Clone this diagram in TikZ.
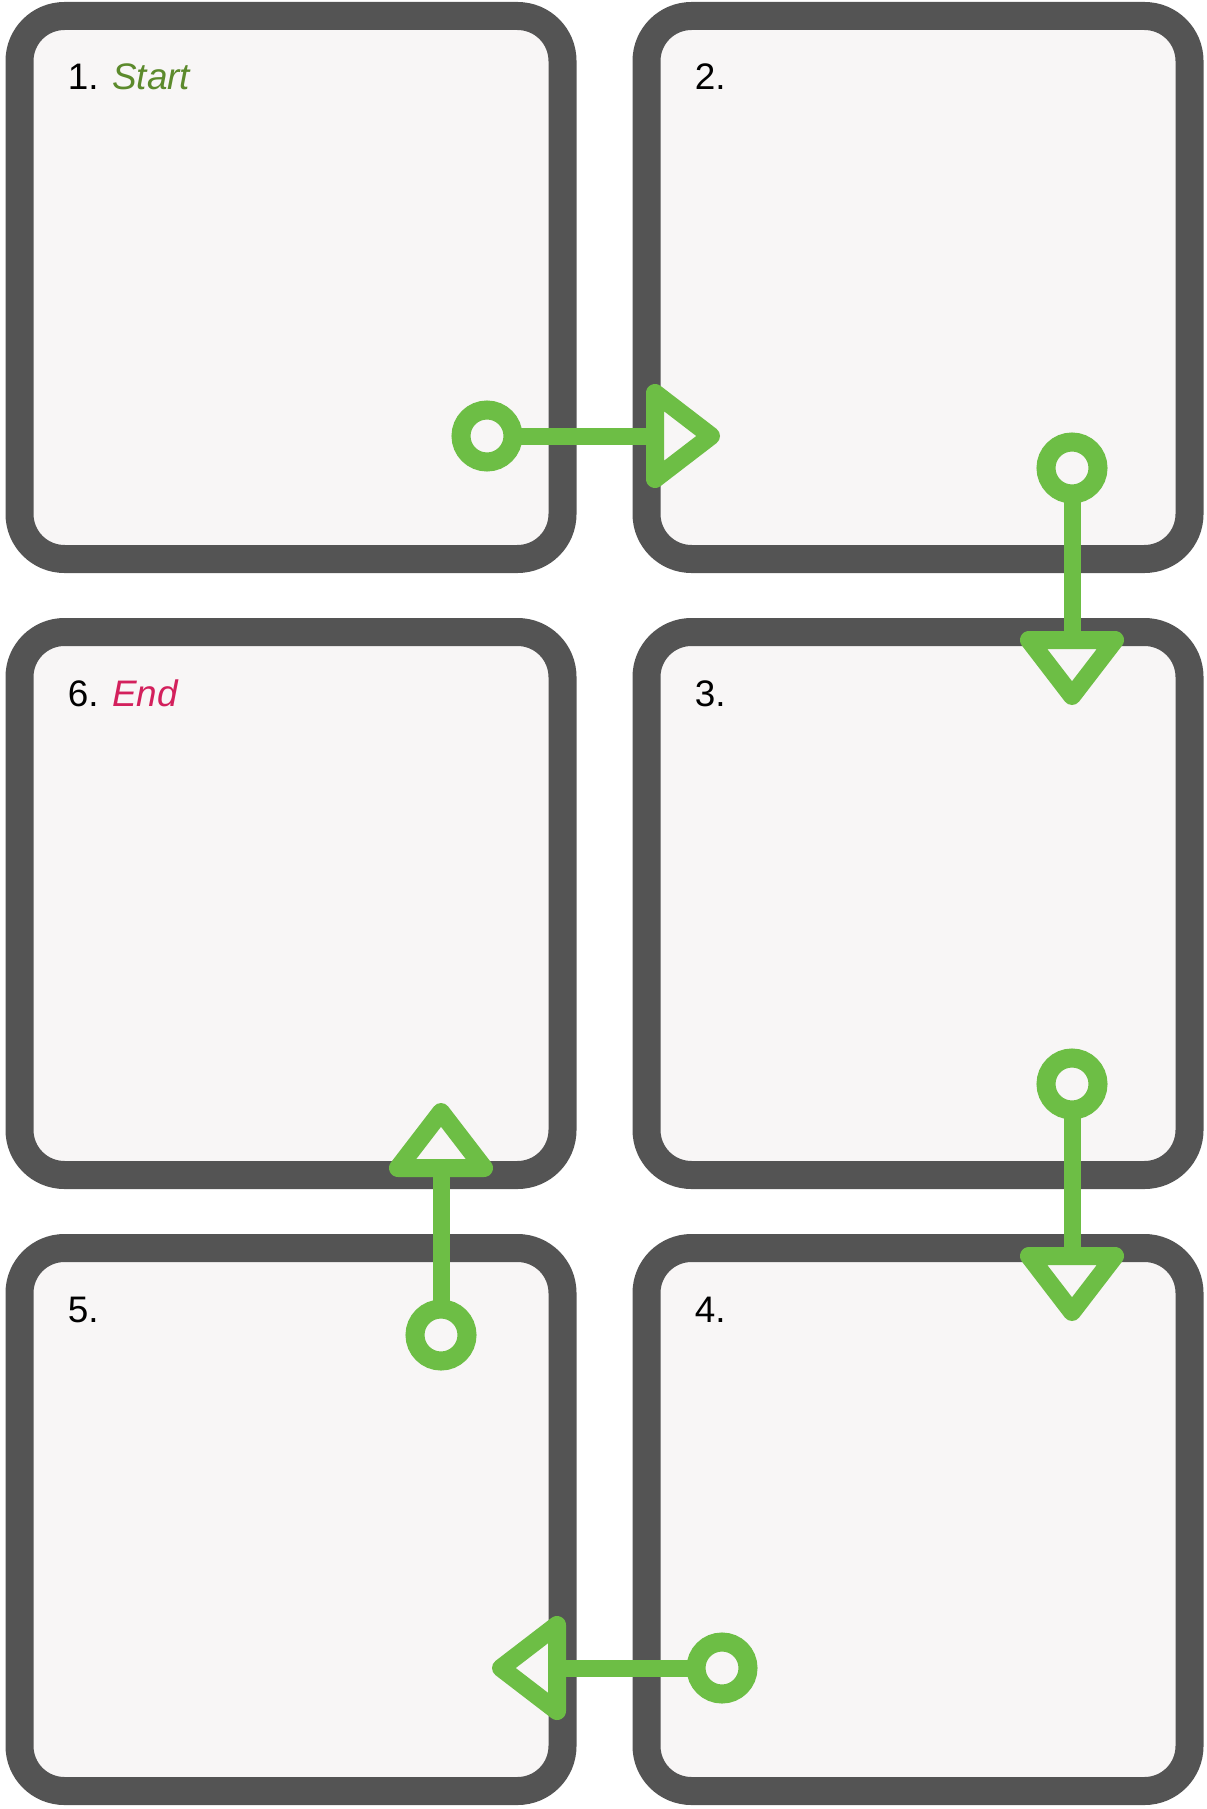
\documentclass[tikz,border=0pt]{standalone}
\usepackage{fontspec}
\setmainfont{Liberation Sans}
\usetikzlibrary{positioning, calc}
\definecolor{cFrame}{RGB}{84,84,84}
\definecolor{cPanel}{RGB}{248,246,246}
\definecolor{cFlow}{RGB}{109,190,69}
\definecolor{cStart}{RGB}{92,138,44}
\definecolor{cEnd}{RGB}{211,32,92}
\tikzset{
	panel/.style   ={rectangle, draw=cFrame, fill=cPanel, line width=0.56cm, rounded corners=0.9cm, minimum width=10.86cm, minimum height=10.86cm, inner sep=0pt, outer sep=0pt},
	plabel/.style  ={anchor=base west, inner sep=0pt, font=\fontsize{21}{25}\selectfont},
	% connector styles
	ring/.style    ={circle, draw=cFlow, fill=cPanel, line width=0.38cm, minimum size=1.04cm, inner sep=0pt, outer sep=0pt},
	flowline/.style={draw=cFlow, line width=0.34cm},
	head/.style    ={draw=cFlow, fill=cPanel, line width=0.36cm, line join=round},
}
\begin{document}
\begin{tikzpicture}
	\useasboundingbox (0,0) rectangle (24.12,-36.18);
	% panels
	\node[panel] (s1) at (5.82,-5.75) {};
	\node[panel, right=1.68cm of s1] (s2) {};
	\node[panel, below=1.46cm of s2] (s3) {};
	\node[panel, below=1.46cm of s3] (s4) {};
	\node[panel, below=1.46cm of s1] (s6) {};
	\node[panel, below=1.46cm of s6] (s5) {};
	\node[plabel] (t1) at ($(s1.north west)+(0.96,-1.48)$) {1. \textcolor{cStart}{\itshape Start}};
	\node[plabel] (t2) at ($(s2.north west)+(0.96,-1.48)$) {2.};
	\node[plabel] (t3) at ($(s3.north west)+(0.96,-1.48)$) {3.};
	\node[plabel] (t4) at ($(s4.north west)+(0.96,-1.48)$) {4.};
	\node[plabel] (t5) at ($(s5.north west)+(0.96,-1.48)$) {5.};
	\node[plabel] (t6) at ($(s6.north west)+(0.96,-1.48)$) {6. \textcolor{cEnd}{\itshape End}};
	% connectors
	\node[ring] (r1) at (9.74,-8.72) {};
	\coordinate (h1) at (13.10,-8.72);
	\draw[flowline] (r1) -- (h1);
	\draw[head] (h1) ++(0,0.86) -- ++(1.12,-0.86) -- ++(-1.12,-0.86) -- cycle;
	\node[ring] (r2) at (21.44,-9.36) {};
	\coordinate (h2) at (21.44,-12.80);
	\draw[flowline] (r2) -- (h2);
	\draw[head] (h2) ++(-0.86,0) -- ++(0.86,-1.12) -- ++(0.86,1.12) -- cycle;
	\node[ring] (r3) at (21.44,-21.68) {};
	\coordinate (h3) at (21.44,-25.12);
	\draw[flowline] (r3) -- (h3);
	\draw[head] (h3) ++(-0.86,0) -- ++(0.86,-1.12) -- ++(0.86,1.12) -- cycle;
	\node[ring] (r4) at (14.44,-33.36) {};
	\coordinate (h4) at (11.14,-33.36);
	\draw[flowline] (r4) -- (h4);
	\draw[head] (h4) ++(0,0.86) -- ++(-1.12,-0.86) -- ++(1.12,-0.86) -- cycle;
	\node[ring] (r5) at (8.82,-26.70) {};
	\coordinate (h5) at (8.82,-23.36);
	\draw[flowline] (r5) -- (h5);
	\draw[head] (h5) ++(-0.86,0) -- ++(0.86,1.12) -- ++(0.86,-1.12) -- cycle;
\end{tikzpicture}
\end{document}
